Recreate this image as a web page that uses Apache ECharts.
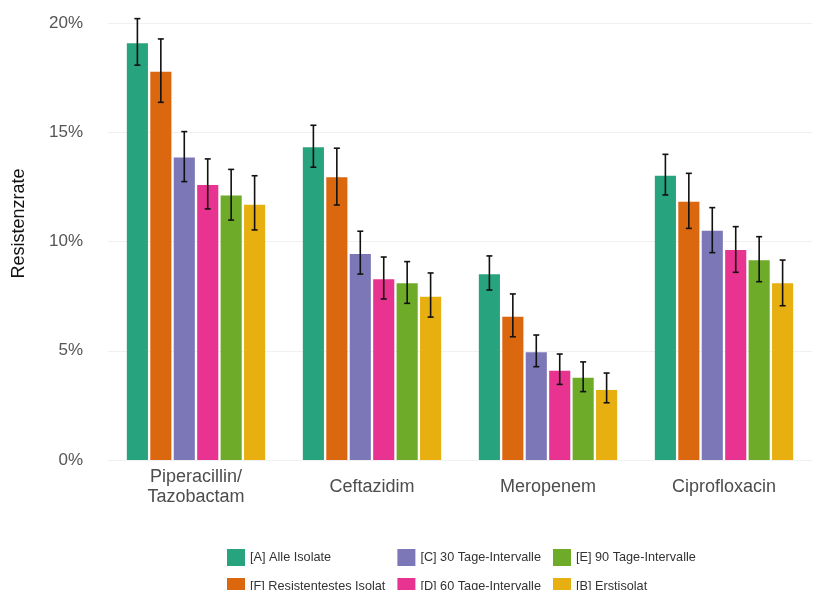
<!DOCTYPE html>
<html>
<head>
<meta charset="utf-8">
<script src="https://cdn.jsdelivr.net/npm/echarts@6/dist/echarts.min.js"></script>
<style>
html,body{margin:0;padding:0;background:#fff;}
#chart{width:818px;height:590px;}
</style>
</head>
<body>
<div id="chart"></div>
<script>
var categories = ['Piperacillin/\nTazobactam', 'Ceftazidim', 'Meropenem', 'Ciprofloxacin'];
var seriesNames = ['[A] Alle Isolate', '[F] Resistentestes Isolat', '[C] 30 Tage-Intervalle', '[D] 60 Tage-Intervalle', '[E] 90 Tage-Intervalle', '[B] Erstisolat'];
var colors = ['#1B9E77', '#D95F02', '#7570B3', '#E7298A', '#66A61E', '#E6AB02'];

// values in percent, per series across categories
var valA = [19.07, 14.31, 8.50, 13.01];
var valF = [17.77, 12.94, 6.56, 11.82];
var valC = [13.85, 9.43, 4.93, 10.49];
var valD = [12.59, 8.27, 4.09, 9.61];
var valE = [12.10, 8.09, 3.77, 9.14];
var valB = [11.68, 7.47, 3.20, 8.09];

var loA = [18.07, 13.40, 7.78, 12.13], hiA = [20.20, 15.32, 9.34, 13.99];
var loF = [16.37, 11.67, 5.64, 10.60], hiF = [19.27, 14.27, 7.60, 13.12];
var loC = [12.74, 8.51, 4.27, 9.49],  hiC = [15.03, 10.47, 5.72, 11.55];
var loD = [11.49, 7.37, 3.46, 8.59],  hiD = [13.78, 9.29, 4.85, 10.68];
var loE = [10.98, 7.17, 3.13, 8.16],  hiE = [13.30, 9.08, 4.49, 10.22];
var loB = [10.53, 6.54, 2.62, 7.06],  hiB = [13.01, 8.56, 3.98, 9.15];

var yTicks = [0, 5, 10, 15, 20];

var values = [valA, valF, valC, valD, valE, valB];
var lows = [loA, loF, loC, loD, loE, loB];
var highs = [hiA, hiF, hiC, hiD, hiE, hiB];

var BAR_FRAC = 0.12;
var GAP_FRAC = 0.11;
var N = seriesNames.length;

var series = [];
for (var i = 0; i < N; i++) {
  series.push({
    name: seriesNames[i],
    type: 'bar',
    barWidth: (BAR_FRAC * 100) + '%',
    barGap: (GAP_FRAC * 100) + '%',
    itemStyle: { color: colors[i], opacity: 0.95 },
    data: values[i],
    z: 2
  });
}
for (var j = 0; j < N; j++) {
  (function (idx) {
    var d = [];
    for (var k = 0; k < categories.length; k++) d.push([k, lows[idx][k], highs[idx][k]]);
    series.push({
      type: 'custom',
      name: seriesNames[idx] + ' err',
      z: 5,
      silent: true,
      clip: false,
      data: d,
      encode: { x: 0, y: [1, 2] },
      renderItem: function (params, api) {
        var c = api.value(0);
        var lo = api.coord([c, api.value(1)]);
        var hi = api.coord([c, api.value(2)]);
        var band = api.size([1, 0])[0];
        var bw = band * BAR_FRAC;
        var step = bw * (1 + GAP_FRAC);
        var x = lo[0] + (idx - (N - 1) / 2) * step;
        var cap = 3;
        var st = { stroke: '#111', lineWidth: 1.6 };
        return {
          type: 'group',
          children: [
            { type: 'line', shape: { x1: x, y1: lo[1], x2: x, y2: hi[1] }, style: st },
            { type: 'line', shape: { x1: x - cap, y1: lo[1], x2: x + cap, y2: lo[1] }, style: st },
            { type: 'line', shape: { x1: x - cap, y1: hi[1], x2: x + cap, y2: hi[1] }, style: st }
          ]
        };
      }
    });
  })(j);
}

var chart = echarts.init(document.getElementById('chart'), null, { renderer: 'canvas' });
chart.setOption({
  animation: false,
  backgroundColor: '#fff',
  color: colors,
  legend: {
    orient: 'vertical',
    left: 222,
    top: 544,
    height: 52,
    itemWidth: 18,
    itemHeight: 17,
    itemGap: 12,
    icon: 'rect',
    selectedMode: false,
    textStyle: { fontFamily: 'Liberation Sans, Arial, sans-serif', fontSize: 12.7, color: '#333' },
    data: seriesNames
  },
  grid: { left: 108, right: 6, top: 23, bottom: 130, containLabel: false, outerBoundsMode: 'none' },
  xAxis: {
    type: 'category',
    data: categories,
    axisLine: { show: false },
    axisTick: { show: false },
    axisLabel: {
      fontFamily: 'Liberation Sans, Arial, sans-serif',
      fontSize: 18,
      color: '#4d4d4d',
      margin: 27,
      verticalAlign: 'middle',
      lineHeight: 20
    },
    splitLine: { show: false }
  },
  yAxis: {
    type: 'value',
    min: 0,
    max: 20,
    interval: 5,
    name: 'Resistenzrate',
    nameLocation: 'middle',
    nameGap: 80,
    nameTextStyle: { fontFamily: 'Liberation Sans, Arial, sans-serif', fontSize: 18, color: '#111', padding: [0, 0, 0, 36] },
    axisLine: { show: false },
    axisTick: { show: false },
    axisLabel: {
      fontFamily: 'Liberation Sans, Arial, sans-serif',
      fontSize: 17,
      color: '#555',
      margin: 25,
      formatter: function (v) { return yTicks.indexOf(v) >= 0 ? v + '%' : ''; }
    },
    splitLine: { lineStyle: { color: '#f1f1f1', width: 1 } }
  },
  series: series
});
</script>
</body>
</html>
